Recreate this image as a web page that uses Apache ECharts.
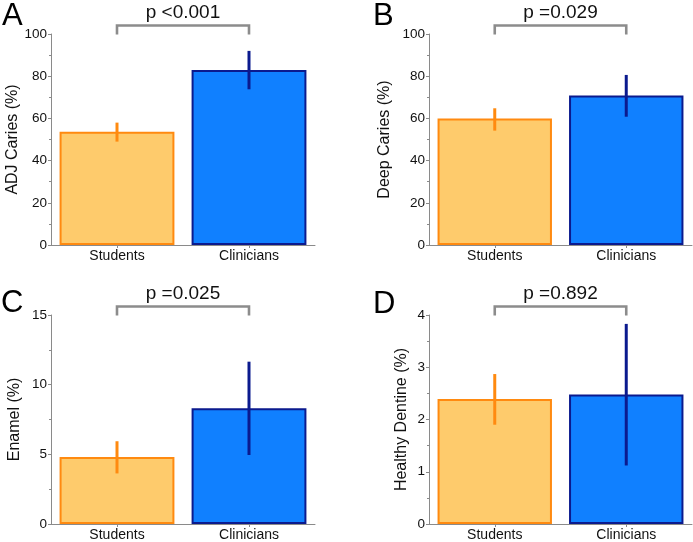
<!DOCTYPE html>
<html>
<head>
<meta charset="utf-8">
<script src="https://cdn.jsdelivr.net/npm/echarts@6/dist/echarts.min.js"></script>
<style>html,body{margin:0;padding:0;background:#fff}#c{width:693px;height:542px}</style>
</head>
<body>
<div id="c"></div>
<script>
// ---- data ----
const categories = ['Students', 'Clinicians'];
const panelLetters = ['A', 'B', 'C', 'D'];
const yTitles = ['ADJ Caries (%)', 'Deep Caries (%)', 'Enamel (%)', 'Healthy Dentine (%)'];
const pLabels = ['p <0.001', 'p =0.029', 'p =0.025', 'p =0.892'];
const yMax = [100, 100, 15, 4];
const yInterval = [20, 20, 5, 1];

const adjMeans = [53.7, 82.9];
const adjLow = [49.0, 73.8];
const adjHigh = [58.0, 92.0];

const deepMeans = [59.9, 70.8];
const deepLow = [54.2, 60.8];
const deepHigh = [64.8, 80.6];

const enamelMeans = [4.8, 8.3];
const enamelLow = [3.63, 4.95];
const enamelHigh = [5.94, 11.65];

const dentineMeans = [2.39, 2.48];
const dentineLow = [1.9, 1.12];
const dentineHigh = [2.87, 3.83];

const means = [adjMeans, deepMeans, enamelMeans, dentineMeans];
const lows = [adjLow, deepLow, enamelLow, dentineLow];
const highs = [adjHigh, deepHigh, enamelHigh, dentineHigh];

// ---- styles ----
const fills = ['#FECB6C', '#1080FF'];
const borders = ['#FF8A10', '#0B1A8E'];
const errColors = ['#FF8A10', '#0B1A8E'];
const axisGray = '#8a8a8a';
const fontFam = '"Liberation Sans", Arial, Helvetica, sans-serif';

const grids = [
  { left: 51, top: 34, width: 264, height: 211 },
  { left: 429, top: 34, width: 263, height: 211 },
  { left: 51, top: 315, width: 264, height: 211 },
  { left: 429, top: 315, width: 263, height: 211 }
];
const nameGaps = [27, 36, 28, 19];
const letterPos = [[2, 13], [373, 13], [1, 300], [373, 301]];

const xAxes = [], yAxes = [], series = [], graphics = [];
for (let i = 0; i < 4; i++) {
  xAxes.push({
    type: 'category', gridIndex: i, data: categories,
    axisLine: { lineStyle: { color: axisGray, width: 1 } },
    axisTick: { show: true, alignWithLabel: true, length: 3, lineStyle: { color: axisGray } },
    axisLabel: { color: '#111', fontSize: 14, margin: 4, fontFamily: fontFam },
    splitLine: { show: false }
  });
  yAxes.push({
    type: 'value', gridIndex: i, min: 0, max: yMax[i], interval: yInterval[i],
    name: yTitles[i], nameLocation: 'middle', nameGap: nameGaps[i],
    nameTextStyle: { color: '#111', fontSize: 16, fontFamily: fontFam },
    axisLine: { show: true, lineStyle: { color: axisGray, width: 1 } },
    axisTick: { show: true, length: 3, lineStyle: { color: axisGray } },
    minorTick: { show: true, splitNumber: 2, length: 2, lineStyle: { color: axisGray } },
    axisLabel: { color: '#111', fontSize: 13.5, margin: 4, fontFamily: fontFam },
    splitLine: { show: false }
  });
  series.push({
    type: 'bar', xAxisIndex: i, yAxisIndex: i, barWidth: '87%',
    data: means[i].map((v, k) => ({
      value: v,
      itemStyle: { color: fills[k], borderColor: borders[k], borderWidth: 2 }
    })),
    animation: false, silent: true
  });
  series.push({
    type: 'custom', xAxisIndex: i, yAxisIndex: i, clip: false,
    data: categories.map((c, k) => [k, lows[i][k], highs[i][k]]),
    encode: { x: 0, y: [1, 2] },
    renderItem: function (params, api) {
      const k = api.value(0);
      const lo = api.coord([k, api.value(1)]);
      const hi = api.coord([k, api.value(2)]);
      return {
        type: 'line',
        shape: { x1: lo[0], y1: lo[1], x2: hi[0], y2: hi[1] },
        style: { stroke: errColors[k], lineWidth: 3 }
      };
    },
    animation: false, silent: true, z: 5
  });
  const label = pLabels[i];
  const top = yMax[i];
  series.push({
    type: 'custom', xAxisIndex: i, yAxisIndex: i, clip: false,
    data: [[0, 1, top]],
    encode: { x: 0, y: 2 },
    renderItem: function (params, api) {
      const a = api.coord([api.value(0), api.value(2)]);
      const b = api.coord([api.value(1), api.value(2)]);
      const yb = a[1] - 8.5;
      return {
        type: 'group',
        children: [
          {
            type: 'polyline',
            shape: { points: [[a[0], a[1] + 0.5], [a[0], yb], [b[0], yb], [b[0], a[1] + 0.5]] },
            style: { stroke: '#8c8c8c', lineWidth: 2.6, fill: null }
          },
          {
            type: 'text',
            style: {
              x: (a[0] + b[0]) / 2, y: yb - 13, text: label,
              fill: '#111', font: '19px ' + fontFam,
              textAlign: 'center', textVerticalAlign: 'middle'
            }
          }
        ]
      };
    },
    animation: false, silent: true, z: 6
  });
  graphics.push({
    type: 'text', left: letterPos[i][0], top: letterPos[i][1] - 12,
    style: { text: panelLetters[i], fill: '#000', font: '31px ' + fontFam }
  });
}

const chart = echarts.init(document.getElementById('c'), null, { renderer: 'canvas' });
chart.setOption({
  animation: false,
  backgroundColor: '#fff',
  textStyle: { fontFamily: fontFam },
  grid: grids,
  xAxis: xAxes,
  yAxis: yAxes,
  series: series,
  graphic: graphics
});
</script>
</body>
</html>
